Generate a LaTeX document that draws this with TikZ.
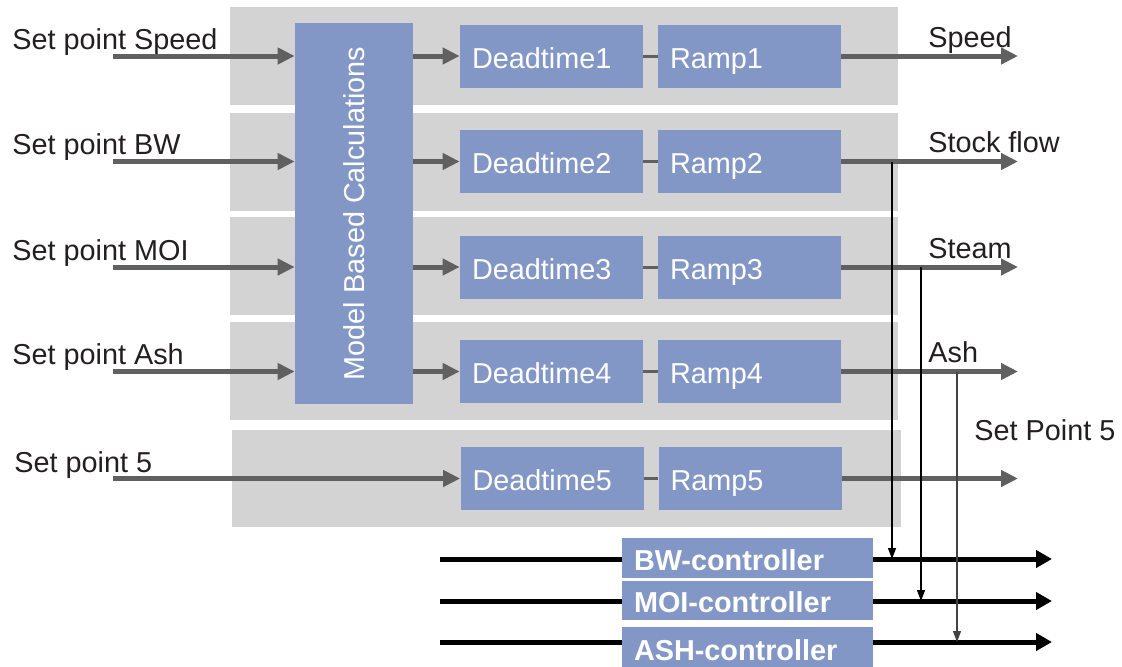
\documentclass[tikz,border=0pt]{standalone}
\usepackage{fontspec}
\setmainfont{Liberation Sans}
\usetikzlibrary{positioning,arrows.meta}
\definecolor{boxblue}{RGB}{131,151,199}
\definecolor{bandgray}{RGB}{211,211,211}
\definecolor{flowgray}{RGB}{96,96,96}
\definecolor{txtdark}{RGB}{35,31,32}

\tikzset{
  blk/.style={fill=boxblue, text=white, inner xsep=2.4mm, align=left,
    text height=14pt, text depth=0pt, font=\fontsize{16.4}{19}\selectfont},
  dtbox/.style={blk, minimum width=36.6mm, minimum height=12.6mm, text width=31.8mm},
  ctrlbox/.style={blk, minimum width=50.2mm, text width=45.4mm,
    font=\fontsize{16.4}{19}\selectfont\bfseries},
  lbl/.style={anchor=base west, inner sep=0pt, text=txtdark,
    font=\fontsize{16.4}{19}\selectfont},
  flow/.style={draw=flowgray, line width=1mm, -{Triangle[length=3.4mm,width=3.2mm]}},
  link/.style={draw=flowgray, line width=0.6mm},
  ctrl/.style={draw=black, line width=1mm, -{Triangle[length=3.2mm,width=3.4mm]}},
  tap/.style={draw=black, line width=0.26mm, -{Triangle[length=2.2mm,width=1.6mm]}},
}

\begin{document}
\begin{tikzpicture}[x=0.2mm,y=-0.2mm]
	\useasboundingbox (0,0) rectangle (1122,666);
	% grey bands
	\foreach \t/\b in {7/105,113/211,217/315,322/420}
	\fill[bandgray] (230,\t) rectangle (898,\b);
	\fill[bandgray] (232,430) rectangle (901,527);

	% model block
	\node[fill=boxblue, minimum width=23.6mm, minimum height=76mm, inner sep=0pt] (mbc) at (354,213.5) {};
	\node[rotate=90, text=white, font=\fontsize{16.4}{19}\selectfont] (mbctext) at (mbc.center) {Model Based Calculations};

	% rows 1-4
	\foreach \i/\y/\sp/\out in {1/56/Speed/Speed,2/161.5/BW/Stock flow,3/267/MOI/Steam,4/371.5/Ash/Ash}{
		\node[dtbox] (dt\i) at (551.5,\y) {Deadtime\i};
		\node[dtbox] (rp\i) at (749.5,\y) {Ramp\i};
		\node[lbl] (in\i) at (12,\y-7) {Set point \sp};
		\node[lbl] (out\i) at (928,\y-9) {\out};
		\coordinate (src\i) at (113,\y);
		\coordinate (dst\i) at (1018,\y);
		\draw[flow] (src\i) -- (src\i -| mbc.west);
		\draw[flow] (mbc.east |- dt\i.west) -- (dt\i.west);
		\draw[link] (dt\i) -- (rp\i);
		\draw[flow] (rp\i) -- (dst\i);
	}

	% row 5
	\node[dtbox] (dt5) at (552,478.5) {Deadtime5};
	\node[dtbox] (rp5) at (750,478.5) {Ramp5};
	\node[lbl] (in5) at (14,472) {Set point 5};
	\node[lbl] (out5) at (974,440) {Set Point 5};
	\coordinate (src5) at (113,478.5);
	\coordinate (dst5) at (1018,478.5);
	\draw[flow] (src5) -- (dt5.west);
	\draw[link] (dt5) -- (rp5);
	\draw[flow] (rp5) -- (dst5);

	% controllers
	\foreach \n/\y in {bw/559,moi/601,ash/642}{
		\coordinate (\n-in) at (440,\y);
		\coordinate (\n-out) at (1052,\y);
		\draw[ctrl] (\n-in) -- (\n-out);
	}
	\node[ctrlbox, minimum height=8mm] (bwc) at (747.5,558) {BW-controller};
	\node[ctrlbox, minimum height=7.8mm] (moic) at (747.5,600.5) {MOI-controller};
	\node[ctrlbox, minimum height=8.4mm] (ashc) at (747.5,648) {ASH-controller};

	% taps to controllers
	\coordinate (tap2) at (892,161.5);
	\coordinate (tap3) at (921,267);
	\coordinate (tap4) at (957,371.5);
	\draw[tap] (tap2) -- (tap2 |- bw-in);
	\draw[tap] (tap3) -- (tap3 |- moi-in);
	\draw[tap, draw=flowgray!70!black, fill=flowgray!70!black] (tap4) -- (tap4 |- ash-in);
\end{tikzpicture}
\end{document}
